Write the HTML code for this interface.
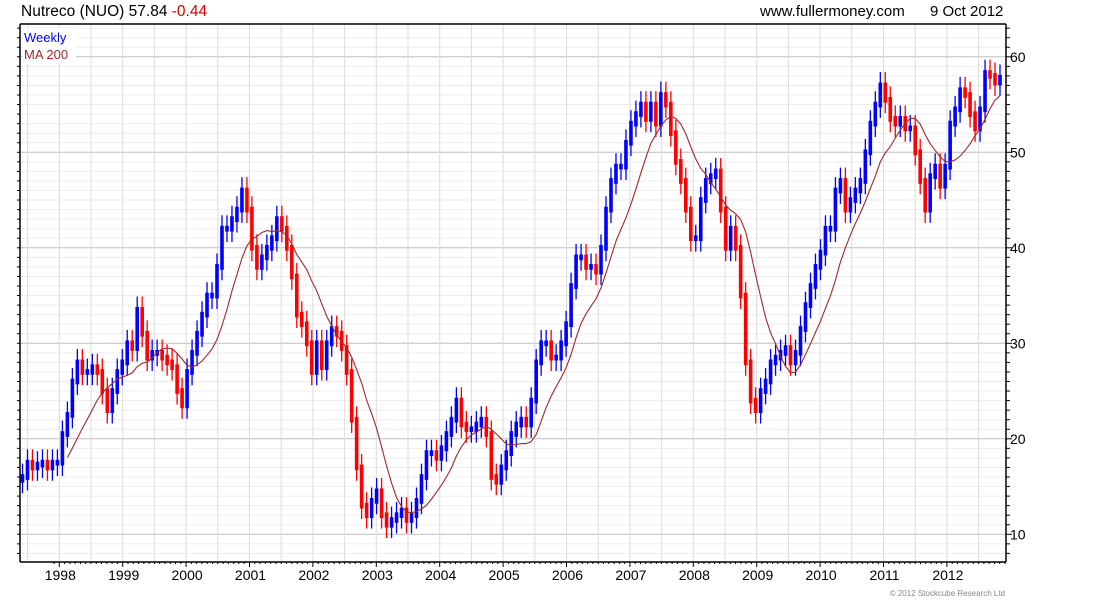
<!DOCTYPE html>
<html><head><meta charset="utf-8"><style>
body{margin:0;background:#fff;}
svg text{font-family:"Liberation Sans",sans-serif;}
</style></head><body>
<svg id="chart" width="1100" height="600" viewBox="0 0 1100 600" xmlns="http://www.w3.org/2000/svg">
<rect width="1100" height="600" fill="#fff"/>
<g id="grid"></g>
<g id="marks"></g>
<polyline id="ma" fill="none" stroke="#a0282a" stroke-width="1.1"/>
<g id="axes"></g>
<text x="21" y="16" font-size="15.5" fill="#000">Nutreco (NUO) 57.84 <tspan fill="#d00000">-0.44</tspan></text>
<text x="760" y="16" font-size="15" fill="#000">www.fullermoney.com</text>
<text x="930" y="16" font-size="15" fill="#000">9 Oct 2012</text>
<rect x="22" y="28" width="54" height="36" fill="#fff"/>
<text x="24" y="42" font-size="13" fill="#0000ff">Weekly</text>
<text x="24" y="59" font-size="13" fill="#a0282a">MA 200</text>
<text x="1005" y="596" font-size="8" fill="#888" text-anchor="end">© 2012 Stockcube Research Ltd</text>
</svg>
<script>
const closes = [16,17.5,17,17.3,17.5,17,17.5,17.5,20.5,22.5,26,28,27,27,27.5,27,25,23,25,27,28,30,29.5,33.5,31,28.5,29,29,28.5,28,27.5,25,23.5,27,29,31,33,35,35,38,42,42,43,44,46,44,40,38,39,40,41,43,42,40,37,33,32,30,27,30,27.5,30,31.5,31,29.5,27,22,17,13,12,13.5,14.5,12,11,11.5,12,12.5,11.5,12,13.5,16,18.5,18.5,18,19,20.5,22,24,21.5,21,21,21.5,22,20.5,16,15.5,17,18.5,20.5,21.5,22,21.5,24,28,30,30,28.5,28.5,30,32,36,39,39,38,38,37.5,40,44,47,48.5,48.5,51,53,54,55,53.5,55,53,56,55,52,49,47,44,41,41,45,47,47.5,48,44,40,42,40,35,28,24,23,25,26,28,28.5,29,29.5,28,29,31.5,34,36,38,39.5,42,42,46,47,44,45,46,47,50,53,55,57,55.5,53.5,53,53.5,52.5,52.5,50,47,44,47.5,48.5,46.5,48.5,53,54.5,56.5,56,54,52.5,54.5,58.3,58,57.3,57.8];
const yTicks = [10,20,30,40,50,60];
const yearLabels = ["1998","1999","2000","2001","2002","2003","2004","2005","2006","2007","2008","2009","2010","2011","2012"];
const maWindow = 10;

const L=20,R=1006,T=24,B=562;
const yOf = v => 152.3 - (v-50)*9.55;
const x0=22.5, x1=1000;
const xOf = i => x0 + i*(x1-x0)/(closes.length-1);
const yearX = k => 59.3 + k*63.4;
const NS="http://www.w3.org/2000/svg";
function mk(tag, attrs, parent){const e=document.createElementNS(NS,tag);for(const k in attrs)e.setAttribute(k,attrs[k]);parent.appendChild(e);return e;}
const grid=document.getElementById('grid'), axes=document.getElementById('axes'), marks=document.getElementById('marks');

for(let v=7; v<=63; v++){
  const y=yOf(v); if(y<T||y>B) continue;
  const ln=mk('line',{x1:L,x2:R,y1:y,y2:y,stroke:(v%10===0)?'#bdbdbd':'#ededed','stroke-width':1},grid);
  
  
}
for(let k=-1;k<=30;k++){
  const x=59.3+k*31.7; if(x<L+2||x>R) continue;
  const ln=mk('line',{x1:x,x2:x,y1:T,y2:B,stroke:'#dcdcdc','stroke-width':1},grid);
  
  
}
for(let i=0;i<closes.length;i++){
  const c=closes[i], o=i>0?closes[i-1]:c-0.3;
  const up=c>=o, col=up?'#0000ff':'#ff0000';
  const x=xOf(i);
  const hi=Math.max(o,c)+1.4, lo=Math.min(o,c)-1.4;
  const w=mk('line',{x1:x,x2:x,y1:yOf(hi),y2:yOf(lo),stroke:col,'stroke-width':1.3},marks);
  
  
  const yt=yOf(Math.max(o,c)+0.3), yb=yOf(Math.min(o,c)-0.3);
  const r=mk('rect',{x:x-1.8,y:yt,width:3.6,height:Math.max(1,yb-yt),fill:col},marks);
  
  
}
const pts=[];
for(let i=maWindow-1;i<closes.length;i++){
  let s=0;for(let j=i-maWindow+1;j<=i;j++)s+=closes[j];
  pts.push(xOf(i).toFixed(1)+','+yOf(s/maWindow).toFixed(1));
}
document.getElementById('ma').setAttribute('points',pts.join(' '));
mk('line',{x1:L,x2:R,y1:T,y2:T,stroke:'#000','stroke-width':1.5},axes);
const la=mk('line',{x1:L,x2:L,y1:T,y2:B,stroke:'#000','stroke-width':1.5},axes);


const ra=mk('line',{x1:R,x2:R,y1:T,y2:B,stroke:'#000','stroke-width':1.5},axes);


const ba=mk('line',{x1:L,x2:R,y1:B,y2:B,stroke:'#000','stroke-width':1.5},axes);


for(let v=7;v<=63;v++){
  const y=yOf(v); if(y<T||y>B) continue;
  mk('line',{x1:L-3,x2:L,y1:y,y2:y,stroke:'#000','stroke-width':1},axes);
  mk('line',{x1:R,x2:R+(v%10===0?6:4),y1:y,y2:y,stroke:'#000','stroke-width':1},axes);
}
yTicks.forEach(v=>{
  const t=mk('text',{x:1010,y:yOf(v)+5,'font-size':14,fill:'#000'},axes);
  t.textContent=v;
  
  
});
for(let k=-1;k<=15*12;k++){
  const x=59.3+k*63.4/12; if(x<L||x>R) continue;
  mk('line',{x1:x,x2:x,y1:B,y2:B+(k%12===0?5:2),stroke:'#000','stroke-width':1},axes);
}
yearLabels.forEach((lab,k)=>{
  const t=mk('text',{x:yearX(k)+1,y:580,'font-size':14,fill:'#000','text-anchor':'middle'},axes);
  t.textContent=lab;
  
  
});
</script>
</body></html>
